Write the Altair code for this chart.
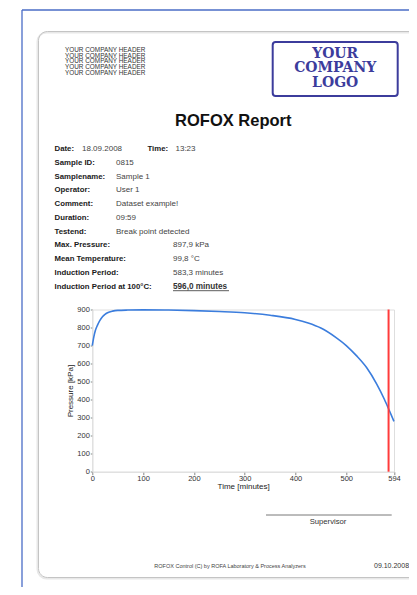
import altair as alt
import pandas as pd

# ---------------- data ----------------
time_min = [0, 3, 6, 10, 15, 20, 25, 30, 40, 50, 70, 100, 150, 200, 250, 300,
            350, 400, 425, 450, 480, 500, 520, 540, 560, 575, 585, 594]
pressure_kpa = [700, 748, 783, 812, 840, 860, 873, 882, 891, 895, 897, 898, 897,
                894, 889, 882, 868, 845, 825, 797, 744, 700, 644, 578, 486,
                402, 338, 279]
induction_min = [583.3]
x_ticks = [0, 100, 200, 300, 400, 500, 594]
y_ticks = [0, 100, 200, 300, 400, 500, 600, 700, 800, 900]

header_lines = ["YOUR COMPANY HEADER"] * 5
logo_lines = ["YOUR", "COMPANY", "LOGO"]
report_title = ["ROFOX Report"]
info_labels = ["Date:", "Sample ID:", "Samplename:", "Operator:", "Comment:",
               "Duration:", "Testend:", "Max. Pressure:", "Mean Temperature:",
               "Induction Period:", "Induction Period at 100°C:"]
date_value = ["18.09.2008"]
time_label = ["Time:"]
time_value = ["13:23"]
sample_values = ["0815", "Sample 1", "User 1", "Dataset example!", "09:59",
                 "Break point detected"]
result_values = ["897,9 kPa", "99,8 °C", "583,3 minutes"]
result_highlight = ["596,0 minutes"]
supervisor_label = ["Supervisor"]
footer_text = ["ROFOX Control (C) by ROFA Laboratory & Process Analyzers"]
print_date = ["09.10.2008"]

# ---------------- layout helpers ----------------
FONT = "Liberation Sans"
OX, OY = 92.3, 309.5          # page position of the plot origin
PW, PH = 301.7, 162.2         # plot area size
ROW0, ROWH = 149.0, 13.75     # info rows


def px(v):
    return v - OX


def py(v):
    return v - OY


def row_y(i):
    return ROW0 + ROWH * i


def one():
    return pd.DataFrame({"k": [0]})


def text_block(lines, x, y, size, weight="normal", align="left",
               color="#222222", lh=None, font=FONT):
    # y is the centre of the first line; further lines go downwards
    df = pd.DataFrame({"t": ["\n".join(lines)]})
    return alt.Chart(df).mark_text(
        align=align, baseline="middle", fontSize=size, fontWeight=weight,
        color=color, font=font, lineBreak="\n",
        lineHeight=lh if lh else size * 1.2,
    ).encode(text="t:N", x=alt.value(px(x)), y=alt.value(py(y)))


def hrule(x1, x2, y, color, w):
    return alt.Chart(one()).mark_rule(color=color, strokeWidth=w).encode(
        x=alt.value(px(x1)), x2=alt.value(px(x2)), y=alt.value(py(y)))


def vrule(x, y1, y2, color, w):
    return alt.Chart(one()).mark_rule(color=color, strokeWidth=w).encode(
        x=alt.value(px(x)), y=alt.value(py(y1)), y2=alt.value(py(y2)))


def box(x1, x2, y1, y2, color, w, r):
    return alt.Chart(one()).mark_rect(
        stroke=color, strokeWidth=w, fill="white", fillOpacity=0,
        cornerRadius=r,
    ).encode(x=alt.value(px(x1)), x2=alt.value(px(x2)),
             y=alt.value(py(y1)), y2=alt.value(py(y2)))


# ---------------- page decoration ----------------
frame_blue = "#4a6cc6"
LAB, VAL = 7.8, 8.0
layers = [
    vrule(22, 10, 600, frame_blue, 1.3),
    hrule(22, 430, 10, frame_blue, 1.3),
    box(37.5, 421, 32.5, 578.5, "#e8e8e8", 2, 9),
    box(38.5, 420, 31.5, 577.5, "#c4c4c4", 1, 9),
    box(272.7, 397.7, 42, 96, "#3c3c9c", 2, 3),
    text_block(logo_lines, 335.2, 53.5, 14, weight="bold", align="center",
               color="#3c3c9c", lh=14.8, font="DejaVu Serif"),
    text_block(header_lines, 65, 50, 6.4, color="#333333", lh=5.7),
    text_block(report_title, 233.3, 121, 16.5, weight="bold", align="center",
               color="#111111"),
    text_block(info_labels, 54.5, row_y(0), LAB, weight="bold",
               color="#1a1a1a", lh=ROWH),
    text_block(date_value, 82, row_y(0), VAL, color="#444444"),
    text_block(time_label, 147.5, row_y(0), LAB, weight="bold",
               color="#1a1a1a"),
    text_block(time_value, 175.5, row_y(0), VAL, color="#444444"),
    text_block(sample_values, 116, row_y(1), VAL, color="#444444", lh=ROWH),
    text_block(result_values, 173, row_y(7), VAL, color="#444444", lh=ROWH),
    text_block(result_highlight, 173, row_y(10), 8.2, weight="bold",
               color="#333333"),
    hrule(173, 229, row_y(10) + 4.2, "#333333", 0.8),
    hrule(266, 391.7, 515, "#555555", 0.8),
    text_block(supervisor_label, 328, 522.3, 7.7, align="center",
               color="#333333"),
    text_block(footer_text, 230, 565.7, 5.5, align="center", color="#444444"),
    text_block(print_date, 374, 565.5, 7, color="#333333"),
]

# ---------------- the plot ----------------
curve = pd.DataFrame({"t": time_min, "p": pressure_kpa})
line = alt.Chart(curve).mark_line(
    color="#3b7ddd", strokeWidth=1.6, interpolate="monotone"
).encode(
    x=alt.X("t:Q", scale=alt.Scale(domain=[0, 594], nice=False),
            axis=alt.Axis(values=x_ticks, title="Time [minutes]",
                          labelFlush=False, tickSize=3, labelPadding=0,
                          titlePadding=0)),
    y=alt.Y("p:Q", scale=alt.Scale(domain=[0, 900], nice=False),
            axis=alt.Axis(values=y_ticks, title="Pressure [kPa]",
                          tickSize=2, labelPadding=1, titlePadding=2)),
)
marker = alt.Chart(pd.DataFrame({"t": induction_min})).mark_rule(
    color="#ff3b3b", strokeWidth=2
).encode(x="t:Q")

chart = alt.layer(*layers, line, marker).properties(
    width=PW, height=PH,
    autosize=alt.AutoSizeParams(type="none"),
    padding={"left": OX - 8, "top": OY - 8,
             "right": 401 - (OX - 8) - PW, "bottom": 579 - (OY - 8) - PH},
).configure_view(
    stroke="#dedede", strokeWidth=1
).configure_axis(
    labelFont=FONT, labelFontSize=7.5, labelColor="#333333",
    titleFont=FONT, titleFontSize=8, titleFontWeight="normal",
    titleColor="#222222", tickColor="#888888", domainColor="#dedede",
    grid=False,
)

chart.save("out.html", embed_options={"renderer": "svg", "actions": False})
